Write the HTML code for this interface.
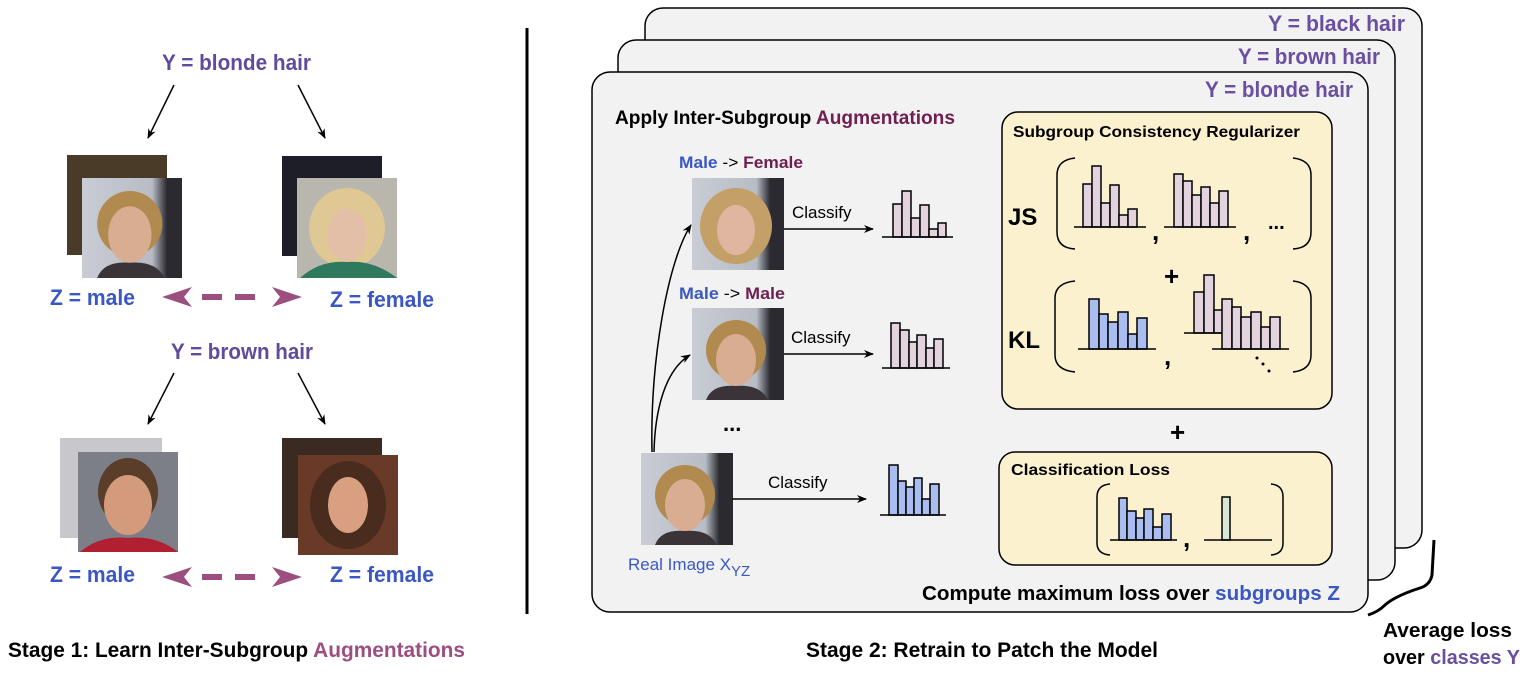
<!DOCTYPE html>
<html><head><meta charset="utf-8"><style>
html,body{margin:0;padding:0;background:#fff}
svg{display:block}
text{font-family:"Liberation Sans Narrow","Liberation Sans",sans-serif}
.b{font-weight:bold}
</style></head><body>
<svg width="1532" height="678" viewBox="0 0 1532 678" xmlns="http://www.w3.org/2000/svg">
<defs>
<marker id="ah" markerWidth="10" markerHeight="10" refX="9" refY="5" orient="auto" markerUnits="userSpaceOnUse"><path d="M0,1 L10,5 L0,9 L3,5 z" fill="#000"/></marker>
<linearGradient id="bg1" x1="0" y1="0" x2="1" y2="0"><stop offset="0" stop-color="#c9ccd4"/><stop offset="0.7" stop-color="#b8bcc4"/><stop offset="0.85" stop-color="#2a2a30"/></linearGradient>
<g id="face">
<rect width="92" height="92" fill="url(#bg1)"/>
<ellipse cx="44" cy="42" rx="30" ry="30" fill="#b08a4e"/>
<ellipse cx="44" cy="52" rx="20" ry="26" fill="#d8ad92"/>
<path d="M14,92 Q20,76 44,78 Q68,76 76,92z" fill="#3a3438"/>
</g>
<g id="faceF">
<rect width="92" height="92" fill="url(#bg1)"/>
<ellipse cx="44" cy="48" rx="36" ry="38" fill="#c2a067"/>
<ellipse cx="44" cy="52" rx="19" ry="25" fill="#dfb7a0"/>
</g>
</defs>

<!-- LEFT STAGE 1 -->
<text x="162" y="70" textLength="149" lengthAdjust="spacingAndGlyphs" class="b" font-size="22" fill="#5f4a9c">Y = blonde hair</text>
<line x1="174" y1="85" x2="148" y2="138" stroke="#000" stroke-width="1.5" marker-end="url(#ah)"/>
<line x1="298" y1="85" x2="325" y2="138" stroke="#000" stroke-width="1.5" marker-end="url(#ah)"/>
<rect x="67" y="155" width="100" height="100" fill="#4a3a28"/>
<g transform="translate(82,178) scale(1.087)"><use href="#face"/></g>
<rect x="282" y="156" width="100" height="100" fill="#1e1e28"/>
<rect x="297" y="178" width="100" height="100" fill="#b9b6ad"/>
<ellipse cx="347" cy="228" rx="38" ry="40" fill="#e0c894"/>
<ellipse cx="347" cy="235" rx="20" ry="26" fill="#e4bfa8"/>
<path d="M300,278 Q320,260 347,262 Q374,260 397,278z" fill="#2f7a5e"/>
<text x="50" y="305" textLength="85" lengthAdjust="spacingAndGlyphs" class="b" font-size="22" fill="#3a57c4">Z = male</text>
<text x="330" y="307" textLength="104" lengthAdjust="spacingAndGlyphs" class="b" font-size="22" fill="#3a57c4">Z = female</text>
<g fill="#9c4f7f"><path d="M162,297 L192,287 L184,297 L192,307z"/><rect x="202" y="294" width="20" height="6"/><rect x="235" y="294" width="20" height="6"/><path d="M302,297 L272,287 L280,297 L272,307z"/></g>

<text x="171" y="359" textLength="142" lengthAdjust="spacingAndGlyphs" class="b" font-size="22" fill="#5f4a9c">Y = brown hair</text>
<line x1="174" y1="373" x2="148" y2="424" stroke="#000" stroke-width="1.5" marker-end="url(#ah)"/>
<line x1="298" y1="373" x2="325" y2="424" stroke="#000" stroke-width="1.5" marker-end="url(#ah)"/>
<rect x="60" y="438" width="102" height="100" fill="#c8c8cc"/>
<rect x="78" y="452" width="100" height="100" fill="#7d7f88"/>
<ellipse cx="128" cy="492" rx="30" ry="34" fill="#5a3e2a"/>
<ellipse cx="128" cy="505" rx="24" ry="30" fill="#d49a7c"/>
<path d="M80,552 Q100,535 128,538 Q156,535 178,552z" fill="#b02030"/>
<rect x="282" y="438" width="100" height="100" fill="#3a2a22"/>
<rect x="298" y="455" width="100" height="100" fill="#6a3a28"/>
<ellipse cx="348" cy="505" rx="38" ry="44" fill="#4a2c1e"/>
<ellipse cx="348" cy="505" rx="20" ry="28" fill="#d8a080"/>
<text x="50" y="582" textLength="85" lengthAdjust="spacingAndGlyphs" class="b" font-size="22" fill="#3a57c4">Z = male</text>
<text x="330" y="582" textLength="104" lengthAdjust="spacingAndGlyphs" class="b" font-size="22" fill="#3a57c4">Z = female</text>
<g fill="#9c4f7f"><path d="M162,577 L192,567 L184,577 L192,587z"/><rect x="202" y="574" width="20" height="6"/><rect x="235" y="574" width="20" height="6"/><path d="M302,577 L272,567 L280,577 L272,587z"/></g>

<text x="8" y="657" textLength="457" lengthAdjust="spacingAndGlyphs" class="b" font-size="21" fill="#000">Stage 1: Learn Inter-Subgroup <tspan fill="#9c4f7f">Augmentations</tspan></text>

<line x1="527" y1="28" x2="527" y2="614" stroke="#000" stroke-width="3"/>

<!-- CARDS -->
<rect x="645" y="8" width="777" height="540" rx="18" fill="#f2f2f2" stroke="#000" stroke-width="1.5"/>
<rect x="618" y="40" width="777" height="540" rx="18" fill="#f2f2f2" stroke="#000" stroke-width="1.5"/>
<rect x="592" y="72" width="776" height="540" rx="18" fill="#f2f2f2" stroke="#000" stroke-width="1.5"/>
<text x="1268" y="31" textLength="137" lengthAdjust="spacingAndGlyphs" class="b" font-size="22" fill="#6a4fa0">Y = black hair</text>
<text x="1238" y="64" textLength="142" lengthAdjust="spacingAndGlyphs" class="b" font-size="22" fill="#6a4fa0">Y = brown hair</text>
<text x="1205" y="97" textLength="148" lengthAdjust="spacingAndGlyphs" class="b" font-size="22" fill="#6a4fa0">Y = blonde hair</text>

<text x="615" y="124" textLength="340" lengthAdjust="spacingAndGlyphs" class="b" font-size="19" fill="#000">Apply Inter-Subgroup <tspan fill="#6e2150">Augmentations</tspan></text>
<text x="679" y="168" textLength="124" lengthAdjust="spacingAndGlyphs" class="b" font-size="17" fill="#3a57c4">Male <tspan fill="#000" font-weight="normal">-&gt;</tspan> <tspan fill="#6e2150">Female</tspan></text>
<text x="679" y="299" textLength="106" lengthAdjust="spacingAndGlyphs" class="b" font-size="17" fill="#3a57c4">Male <tspan fill="#000" font-weight="normal">-&gt;</tspan> <tspan fill="#6e2150">Male</tspan></text>

<g transform="translate(692,178)"><use href="#faceF"/></g>
<g transform="translate(692,308)"><use href="#face"/></g>
<g transform="translate(641,453)"><use href="#face"/></g>
<text x="723" y="431" class="b" font-size="22" fill="#000">...</text>
<text x="628" y="570" font-size="17" fill="#3a57c4">Real Image X<tspan font-size="15" dy="6">YZ</tspan></text>

<path d="M652,452 C650,360 668,260 691,225" fill="none" stroke="#000" stroke-width="1.5" marker-end="url(#ah)"/>
<path d="M654,452 C655,410 665,370 690,355" fill="none" stroke="#000" stroke-width="1.5" marker-end="url(#ah)"/>
<line x1="784" y1="229" x2="873" y2="229" stroke="#000" stroke-width="1.5" marker-end="url(#ah)"/>
<line x1="784" y1="354" x2="873" y2="354" stroke="#000" stroke-width="1.5" marker-end="url(#ah)"/>
<line x1="732" y1="499" x2="866" y2="499" stroke="#000" stroke-width="1.5" marker-end="url(#ah)"/>
<text x="792" y="218" font-size="17" fill="#000">Classify</text>
<text x="791" y="343" font-size="17" fill="#000">Classify</text>
<text x="768" y="488" font-size="17" fill="#000">Classify</text>

<!-- yellow boxes -->
<rect x="1002" y="112" width="330" height="297" rx="16" fill="#fbf1cf" stroke="#000" stroke-width="1.5"/>
<rect x="999" y="452" width="333" height="113" rx="16" fill="#fbf1cf" stroke="#000" stroke-width="1.5"/>
<text x="1013" y="137" textLength="287" lengthAdjust="spacingAndGlyphs" class="b" font-size="16" fill="#000">Subgroup Consistency Regularizer</text>
<text x="1011" y="475" textLength="159" lengthAdjust="spacingAndGlyphs" class="b" font-size="16" fill="#000">Classification Loss</text>
<text x="1008" y="225" class="b" font-size="24" fill="#000">JS</text>
<text x="1008" y="348" class="b" font-size="24" fill="#000">KL</text>

<g stroke="#000" stroke-width="1.5">
<g fill="#e2d3df"><rect x="893" y="204" width="9" height="33"/><rect x="902" y="191" width="9" height="46"/><rect x="911" y="218" width="9" height="19"/><rect x="920" y="205" width="9" height="32"/><rect x="929" y="229" width="9" height="8"/><rect x="938" y="223" width="8" height="14"/></g>
<line x1="882" y1="237" x2="953" y2="237"/>
<g fill="#e2d3df"><rect x="891" y="323" width="9" height="45"/><rect x="900" y="330" width="9" height="38"/><rect x="909" y="342" width="8" height="26"/><rect x="917" y="335" width="9" height="33"/><rect x="926" y="348" width="8" height="20"/><rect x="934" y="339" width="9" height="29"/></g>
<line x1="882" y1="368" x2="950" y2="368"/>
<g fill="#a9bdf0"><rect x="889" y="465" width="9" height="50"/><rect x="898" y="481" width="8" height="34"/><rect x="906" y="487" width="8" height="28"/><rect x="914" y="478" width="8" height="37"/><rect x="922" y="499" width="8" height="16"/><rect x="930" y="484" width="9" height="31"/></g>
<line x1="880" y1="515" x2="946" y2="515"/>
</g>

<g fill="none" stroke="#000" stroke-width="1.5">
<path d="M1075,158 Q1057,160 1057,175 L1057,232 Q1057,248 1075,249"/>
<path d="M1293,158 Q1311,160 1311,175 L1311,232 Q1311,248 1293,249"/>
<path d="M1075,281 Q1055,283 1055,298 L1055,355 Q1055,370 1075,372"/>
<path d="M1293,281 Q1311,283 1311,298 L1311,355 Q1311,370 1293,372"/>
<path d="M1110,484 Q1097,485 1097,497 L1097,543 Q1097,554 1110,555"/>
<path d="M1271,484 Q1283,485 1283,497 L1283,543 Q1283,554 1271,555"/>
</g>
<g stroke="#000" stroke-width="1.5">
<g fill="#e2d3df"><rect x="1083" y="184" width="9" height="43"/><rect x="1092" y="166" width="9" height="61"/><rect x="1101" y="203" width="9" height="24"/><rect x="1110" y="185" width="9" height="42"/><rect x="1119" y="215" width="9" height="12"/><rect x="1128" y="209" width="9" height="18"/></g>
<line x1="1074" y1="227" x2="1146" y2="227"/>
<g fill="#e2d3df"><rect x="1174" y="174" width="9" height="53"/><rect x="1183" y="181" width="9" height="46"/><rect x="1192" y="195" width="9" height="32"/><rect x="1201" y="187" width="9" height="40"/><rect x="1210" y="203" width="9" height="24"/><rect x="1219" y="191" width="9" height="36"/></g>
<line x1="1164" y1="227" x2="1236" y2="227"/>
<g fill="#a9bdf0"><rect x="1089" y="299" width="10" height="50"/><rect x="1099" y="314" width="9" height="35"/><rect x="1108" y="322" width="10" height="27"/><rect x="1118" y="312" width="10" height="37"/><rect x="1128" y="334" width="9" height="15"/><rect x="1137" y="318" width="10" height="31"/></g>
<line x1="1078" y1="349" x2="1156" y2="349"/>
<g fill="#e2d3df"><rect x="1194" y="292" width="10" height="41"/><rect x="1204" y="275" width="10" height="58"/><rect x="1214" y="310" width="9" height="23"/></g>
<line x1="1184" y1="333" x2="1222" y2="333"/>
<g fill="#e2d3df"><rect x="1222" y="299" width="10" height="50"/><rect x="1232" y="307" width="9" height="42"/><rect x="1241" y="317" width="10" height="32"/><rect x="1251" y="312" width="10" height="37"/><rect x="1261" y="327" width="9" height="22"/><rect x="1270" y="317" width="10" height="32"/></g>
<line x1="1212" y1="349" x2="1289" y2="349"/>
<g fill="#a9bdf0"><rect x="1119" y="498" width="8" height="42"/><rect x="1127" y="511" width="9" height="29"/><rect x="1136" y="518" width="8" height="22"/><rect x="1144" y="509" width="9" height="31"/><rect x="1153" y="527" width="9" height="13"/><rect x="1162" y="514" width="9" height="26"/></g>
<line x1="1110" y1="540" x2="1177" y2="540"/>
<rect x="1222" y="497" width="8" height="43" fill="#d6e8d4"/>
<line x1="1204" y1="540" x2="1272" y2="540"/>
</g>
<text x="1152" y="240" class="b" font-size="26" fill="#000">,</text>
<text x="1243" y="240" class="b" font-size="26" fill="#000">,</text>
<text x="1268" y="229" class="b" font-size="20" fill="#000">...</text>
<text x="1164" y="365" class="b" font-size="26" fill="#000">,</text>
<text x="1183" y="547" class="b" font-size="26" fill="#000">,</text>
<g fill="#000"><circle cx="1257" cy="358" r="1.5"/><circle cx="1263" cy="364" r="1.5"/><circle cx="1269" cy="371" r="1.5"/></g>
<text x="1164" y="285" class="b" font-size="26" fill="#000">+</text>
<text x="1170" y="441" class="b" font-size="26" fill="#000">+</text>

<text x="922" y="600" textLength="418" lengthAdjust="spacingAndGlyphs" class="b" font-size="20" fill="#000">Compute maximum loss over <tspan fill="#3a57c4">subgroups Z</tspan></text>

<!-- brace -->
<path d="M1434,540 L1432,575 Q1430,585 1420,588 Q1395,596 1385,605 Q1378,612 1368,615" fill="none" stroke="#000" stroke-width="3"/>
<text x="1383" y="637" textLength="129" lengthAdjust="spacingAndGlyphs" class="b" font-size="20" fill="#000">Average loss</text>
<text x="1383" y="664" textLength="137" lengthAdjust="spacingAndGlyphs" class="b" font-size="20" fill="#000">over <tspan fill="#6a4fa0">classes Y</tspan></text>

<text x="806" y="657" textLength="352" lengthAdjust="spacingAndGlyphs" class="b" font-size="21" fill="#000">Stage 2: Retrain to Patch the Model</text>
</svg>
</body></html>
